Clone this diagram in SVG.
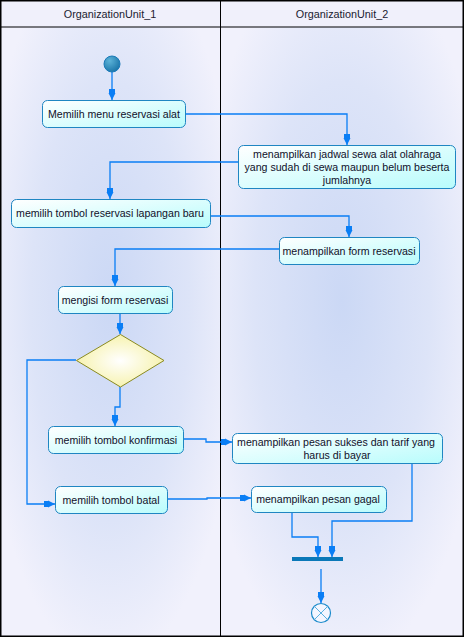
<svg xmlns="http://www.w3.org/2000/svg" width="464" height="637" viewBox="0 0 464 637">
<defs>
<style>
.lane-hdr{fill:#f0f0fb}
.box{stroke:#1f86c2;stroke-width:1;fill:url(#boxg)}
.t{font-family:"Liberation Sans",Arial,sans-serif;font-size:10.6px;fill:#10102a;text-anchor:middle}
.hdr{font-family:"Liberation Sans",Arial,sans-serif;font-size:10.8px;fill:#202030;text-anchor:middle}
.c{fill:none;stroke:#0a7ef5;stroke-width:1.3;marker-end:url(#arr)}
.border{fill:none;stroke:#000;stroke-width:1.5}
</style>
<linearGradient id="boxg" x1="0" y1="0" x2="1" y2="1">
<stop offset="0" stop-color="#ffffff"/>
<stop offset="1" stop-color="#b8fcfc"/>
</linearGradient>
<radialGradient id="laneg" cx="0.5" cy="0.45" r="0.6">
<stop offset="0" stop-color="#cbd8f5"/>
<stop offset="0.6" stop-color="#dde4f8"/>
<stop offset="1" stop-color="#f1f1fc"/>
</radialGradient>
<radialGradient id="diag" cx="0.5" cy="0.5" r="0.6">
<stop offset="0" stop-color="#ffffff"/>
<stop offset="1" stop-color="#f5f0a0"/>
</radialGradient>
<radialGradient id="initg" cx="0.35" cy="0.3" r="0.8">
<stop offset="0" stop-color="#5cb3d8"/>
<stop offset="1" stop-color="#1570a5"/>
</radialGradient>
<marker id="arr" viewBox="0 -4 12 8" refX="11" refY="0" markerWidth="12" markerHeight="8" markerUnits="userSpaceOnUse" orient="auto">
<path d="M0,-3 L4,-3 L4,-3.5 L11,0 L4,3.5 L4,3 L0,3 Z" fill="#0a7ef5"/>
</marker>
</defs>
<rect x="0" y="0" width="464" height="637" fill="#f1f1fc"/>
<g id="lane1">
<rect class="lane-hdr" x="0" y="0" width="220" height="27"/>
<rect x="0" y="27" width="220" height="610" fill="url(#laneg)"/>
<text class="hdr" x="110" y="18">OrganizationUnit_1</text>
</g>
<g id="lane2">
<rect class="lane-hdr" x="220" y="0" width="244" height="27"/>
<rect x="220" y="27" width="244" height="610" fill="url(#laneg)"/>
<text class="hdr" x="342" y="18">OrganizationUnit_2</text>
</g>
<g id="frame">
<rect class="border" x="0.75" y="0.75" width="462.5" height="635.5"/>
<line x1="0" y1="27" x2="464" y2="27" stroke="#000" stroke-width="1"/>
<line x1="220.5" y1="0" x2="220.5" y2="637" stroke="#000" stroke-width="1"/>
</g>
<g id="connectors">
<path class="c" d="M112,72 V100"/>
<path class="c" d="M185,114 H347 V145"/>
<path class="c" d="M238,162 H110 V199"/>
<path class="c" d="M210,216 H349 V237"/>
<path class="c" d="M279,249 H115 V286"/>
<path class="c" d="M120,313 V334"/>
<path class="c" d="M120,387 V407 H115 V426"/>
<path class="c" d="M183,439 H206 V442 H232"/>
<path class="c" d="M76,360 H27 V504 H55"/>
<path class="c" d="M167,499 H207 V498 H251"/>
<path class="c" d="M292,512 V537 H318 V557"/>
<path class="c" d="M412,463 V521 H332 V557"/>
<path class="c" d="M321,569 V603"/>
</g>
<g id="start">
<circle cx="112" cy="64" r="8" fill="url(#initg)" stroke="#1a7ab8" stroke-width="1"/>
</g>
<g id="n1">
<rect class="box" x="42.5" y="100.5" width="143" height="27" rx="5"/>
<text class="t" x="114" y="118">Memilih menu reservasi alat</text>
</g>
<g id="n2">
<rect class="box" x="238.5" y="145.5" width="217" height="43" rx="5"/>
<text class="t" x="347" y="158">menampilkan jadwal sewa alat olahraga</text>
<text class="t" x="347" y="171">yang sudah di sewa maupun belum beserta</text>
<text class="t" x="347" y="184">jumlahnya</text>
</g>
<g id="n3">
<rect class="box" x="11.5" y="199.5" width="199" height="28" rx="5"/>
<text class="t" x="110" y="217">memilih tombol reservasi lapangan baru</text>
</g>
<g id="n4">
<rect class="box" x="279.5" y="237.5" width="140" height="27" rx="5"/>
<text class="t" x="349" y="255">menampilkan form reservasi</text>
</g>
<g id="n5">
<rect class="box" x="58.5" y="286.5" width="114" height="27" rx="5"/>
<text class="t" x="115" y="304">mengisi form reservasi</text>
</g>
<g id="decision">
<polygon points="120.5,334.5 164,360.5 120.5,387 76.5,360.5" fill="url(#diag)" stroke="#8a8a20" stroke-width="1"/>
</g>
<g id="n6">
<rect class="box" x="48.5" y="426.5" width="135" height="27" rx="5"/>
<text class="t" x="116" y="444">memilih tombol konfirmasi</text>
</g>
<g id="n7">
<rect class="box" x="232.5" y="433.5" width="210" height="30" rx="5"/>
<text class="t" x="336" y="446">menampilkan pesan sukses dan tarif yang</text>
<text class="t" x="337" y="459">harus di bayar</text>
</g>
<g id="n8">
<rect class="box" x="55.5" y="486.5" width="112" height="27" rx="5"/>
<text class="t" x="111" y="504">memilih tombol batal</text>
</g>
<g id="n9">
<rect class="box" x="251.5" y="486.5" width="135" height="26" rx="5"/>
<text class="t" x="318" y="503">menampilkan pesan gagal</text>
</g>
<g id="join">
<rect x="292" y="557" width="51" height="4" fill="#0a78b8"/>
</g>
<g id="end">
<circle cx="321" cy="613" r="9.5" fill="#f4f6ff" stroke="#1a8acb" stroke-width="1.2"/>
<path d="M314.3,606.3 L327.7,619.7 M327.7,606.3 L314.3,619.7" stroke="#59b0e0" stroke-width="1"/>
</g>
</svg>
